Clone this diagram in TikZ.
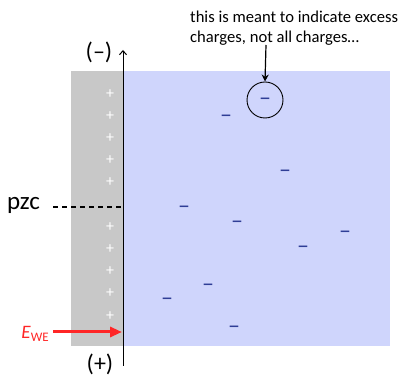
\documentclass[tikz,border=0pt]{standalone}
\usepackage{fontspec}
\setmainfont{Carlito}
\usetikzlibrary{arrows.meta}
\definecolor{wePlate}{RGB}{200,200,200}
\definecolor{bulkSol}{RGB}{207,213,252}
\definecolor{ionBlue}{RGB}{47,62,150}
\definecolor{fieldRed}{RGB}{255,38,38}
\begin{document}
\begin{tikzpicture}[x=1pt,y=-1pt]
\tikzset{
    dlPlus/.style={text=white,font=\fontsize{16}{16}\selectfont,inner sep=0pt},
    dlMinus/.style={text=ionBlue,font=\fontsize{24}{24}\selectfont,inner sep=0pt,yshift=-3pt},
    dlLabel/.style={font=\fontsize{24}{26}\selectfont,inner sep=0pt},
}
\useasboundingbox (0,0) rectangle (410,379);
\fill[wePlate] (71,71) rectangle (123,346);
\fill[bulkSol] (123,71) rectangle (390,346);

\foreach \y [count=\i] in {94,116,138,160,182,227,249,271,293,316} {
    \node[dlPlus] (p\i) at (110,\y) {+};
}
\foreach \x/\y [count=\i] in {
    226/116, 285/171, 184/207, 237/222, 345/232,
    303/247, 208/285, 167/299, 234/327
} {
    \node[dlMinus] (m\i) at (\x,\y) {–};
}
\node[dlMinus] (mx) at (265,99) {–};
\node[draw=black,line width=0.9pt,circle,minimum size=36pt,inner sep=0pt] (excess) at (265,100) {};

\coordinate (axBot) at (123,366);
\coordinate (axTop) at (123,50);
\draw[line width=1pt,-{Straight Barb[length=4pt,width=7pt]}] (axBot) -- (axTop);
\node[dlLabel] (neg) at (99,52) {(–)};
\node[dlLabel] (pos) at (100,364) {(+)};

\node[dlLabel,font=\fontsize{25}{25}\selectfont,anchor=west] (pzc) at (7,205) {pzc};
\coordinate (pzcAx) at (123,207);
\draw[line width=1.8pt,dash pattern=on 5pt off 4pt] (53,207) -- (pzcAx);

\node[text=fieldRed,font=\fontsize{19}{19}\selectfont,inner sep=0pt,anchor=east] (ewe)
    at (49,334) {\textit{E}\raisebox{-0.35ex}{\fontsize{13}{13}\selectfont WE}};
\coordinate (eweAx) at (122,332);
\draw[fieldRed,line width=3pt,-{Triangle[length=12pt,width=10pt]}] (53,332) -- (eweAx);

\node[font=\fontsize{16.6}{20}\selectfont,align=left,anchor=north west,inner sep=0pt] (note)
    at (190,11) {this is meant to indicate excess\\charges, not all charges…};
\draw[line width=1.2pt,-{Stealth[length=7pt,width=7pt]}] (266,45) -- (excess.north);
\end{tikzpicture}
\end{document}
